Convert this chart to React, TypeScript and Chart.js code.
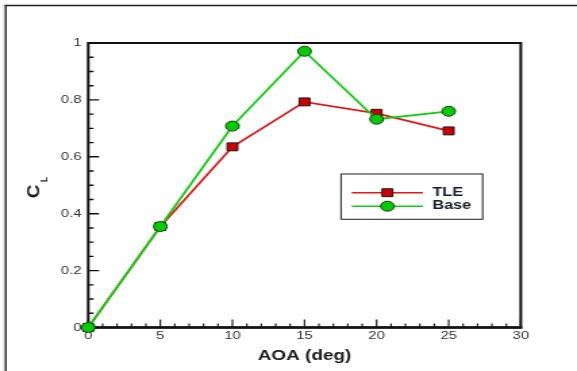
import React, { useEffect, useRef } from "react";
import { Chart, registerables } from "chart.js";

Chart.register(...registerables);

// ---- data ----
const aoa = [0, 5, 10, 15, 20, 25];
const tleCL = [0, 0.355, 0.635, 0.793, 0.753, 0.691];
const baseCL = [0, 0.355, 0.708, 0.971, 0.732, 0.76];
const seriesLabels = ["TLE", "Base"];

const xTickValues = [0, 5, 10, 15, 20, 25, 30];
const xTickLabels = ["0", "5", "10", "15", "20", "25", "30"];
const yTickValues = [0, 0.2, 0.4, 0.6, 0.8, 1];
const yTickLabels = ["0", "0.2", "0.4", "0.6", "0.8", "1"];
const xMinorValues = [1, 2, 3, 4, 6, 7, 8, 9, 11, 12, 13, 14, 16, 17, 18, 19, 21, 22, 23, 24, 26, 27, 28, 29];
const yMinorValues = [0.05, 0.1, 0.15, 0.25, 0.3, 0.35, 0.45, 0.5, 0.55, 0.65, 0.7, 0.75, 0.85, 0.9, 0.95];

const xTitle = "AOA (deg)";
const yTitleMain = "C";
const yTitleSub = "L";

// ---- layout (internal canvas is stretched horizontally to 577px) ----
const W = 427;
const H = 371;
const FONT = "'Liberation Sans', Arial, Helvetica, sans-serif";

const decorPlugin = {
  id: "decor",
  beforeDatasetsDraw(chart: any) {
    const { ctx, chartArea: a, scales } = chart;
    const xs = scales.x;
    const ys = scales.y;
    ctx.save();
    // outer figure frame
    ctx.strokeStyle = "#c4c4c4";
    ctx.lineWidth = 1.2;
    ctx.beginPath();
    ctx.moveTo(3.2, 5);
    ctx.lineTo(3.2, H);
    ctx.stroke();
    ctx.strokeStyle = "#1e1e1e";
    ctx.lineWidth = 1.2;
    ctx.beginPath();
    ctx.moveTo(4.3, 5);
    ctx.lineTo(4.3, H);
    ctx.stroke();
    ctx.lineWidth = 1.5;
    ctx.beginPath();
    ctx.moveTo(3.5, 5.5);
    ctx.lineTo(W, 5.5);
    ctx.stroke();

    // inward ticks
    ctx.strokeStyle = "#111";
    ctx.lineWidth = 1.1;
    ctx.beginPath();
    for (const v of xTickValues) {
      const px = xs.getPixelForValue(v);
      ctx.moveTo(px, a.bottom);
      ctx.lineTo(px, a.bottom - 8);
    }
    for (const v of xMinorValues) {
      const px = xs.getPixelForValue(v);
      ctx.moveTo(px, a.bottom);
      ctx.lineTo(px, a.bottom - 4);
    }
    ctx.stroke();
    ctx.lineWidth = 1.4;
    ctx.beginPath();
    for (const v of yTickValues) {
      const py = ys.getPixelForValue(v);
      ctx.moveTo(a.left, py);
      ctx.lineTo(a.left + 8, py);
    }
    for (const v of yMinorValues) {
      const py = ys.getPixelForValue(v);
      ctx.moveTo(a.left, py);
      ctx.lineTo(a.left + 4, py);
    }
    ctx.stroke();

    // plot frame
    ctx.strokeStyle = "#111";
    ctx.lineWidth = 2;
    ctx.strokeRect(a.left, a.top, a.right - a.left, a.bottom - a.top);
    ctx.lineWidth = 2.6;
    ctx.beginPath();
    ctx.moveTo(a.left - 1, a.bottom);
    ctx.lineTo(a.right + 1, a.bottom);
    ctx.stroke();
    ctx.restore();
  },
  afterDraw(chart: any) {
    const { ctx, chartArea: a } = chart;
    ctx.save();
    // axis titles
    ctx.fillStyle = "#1a1a1a";
    ctx.font = `bold 14px ${FONT}`;
    ctx.textAlign = "center";
    ctx.textBaseline = "alphabetic";
    ctx.fillText(xTitle, (a.left + a.right) / 2, 360);

    ctx.save();
    ctx.translate(25.3, 191.5);
    ctx.rotate(-Math.PI / 2);
    ctx.scale(1.35, 0.92);
    ctx.font = `bold 14px ${FONT}`;
    ctx.textBaseline = "middle";
    ctx.fillText(yTitleMain, 0, 0);
    ctx.restore();
    ctx.save();
    ctx.translate(32.4, 179.5);
    ctx.rotate(-Math.PI / 2);
    ctx.font = `bold 8px ${FONT}`;
    ctx.textAlign = "center";
    ctx.textBaseline = "middle";
    ctx.fillText(yTitleSub, 0, 0);
    ctx.restore();

    // legend
    const bx = 252.4, by = 174, bw = 104.8, bh = 45.3;
    ctx.fillStyle = "#fff";
    ctx.fillRect(bx, by, bw, bh);
    ctx.strokeStyle = "#333";
    ctx.lineWidth = 1.1;
    ctx.strokeRect(bx, by, bw, bh);
    const rows = [192.7, 206.2];
    const baselines = [195.6, 209.4];
    chart.data.datasets.forEach((ds: any, i: number) => {
      const ry = rows[i];
      ctx.strokeStyle = ds.borderColor;
      ctx.lineWidth = 1.6;
      ctx.beginPath();
      ctx.moveTo(260.3, ry);
      ctx.lineTo(312.9, ry);
      ctx.stroke();
      const mx = 286.7;
      ctx.fillStyle = ds.pointBackgroundColor;
      ctx.strokeStyle = ds.pointBorderColor;
      ctx.lineWidth = 1;
      ctx.beginPath();
      if (ds.pointStyle === "rect") {
        const s = ds.pointRadius * Math.SQRT1_2;
        ctx.rect(mx - s, ry - s, 2 * s, 2 * s);
      } else {
        ctx.arc(mx, ry, ds.pointRadius, 0, Math.PI * 2);
      }
      ctx.fill();
      ctx.stroke();
      ctx.fillStyle = "#1a1a2a";
      ctx.font = `bold 12px ${FONT}`;
      ctx.textAlign = "left";
      ctx.textBaseline = "alphabetic";
      ctx.fillText(ds.label, 320, baselines[i]);
    });
    ctx.restore();
  },
};

export default function App() {
  const ref = useRef<HTMLCanvasElement | null>(null);

  useEffect(() => {
    const canvas = ref.current;
    if (!canvas) return;
    const chart = new Chart(canvas, {
      type: "line",
      data: {
        datasets: [
          {
            label: seriesLabels[0],
            data: aoa.map((x, i) => ({ x, y: tleCL[i] })),
            borderColor: "#e01818",
            borderWidth: 1.8,
            pointStyle: "rect",
            pointRadius: 5.6,
            pointHoverRadius: 5.6,
            pointBackgroundColor: "#cc0000",
            pointBorderColor: "#1a1a1a",
            pointBorderWidth: 1,
            order: 2,
            clip: false,
            tension: 0,
          } as any,
          {
            label: seriesLabels[1],
            data: aoa.map((x, i) => ({ x, y: baseCL[i] })),
            borderColor: "#14cc14",
            borderWidth: 1.8,
            pointStyle: "circle",
            pointRadius: 5,
            pointHoverRadius: 5,
            pointBackgroundColor: "#00cc00",
            pointBorderColor: "#1c3a1c",
            pointBorderWidth: 1,
            order: 1,
            clip: false,
            tension: 0,
          } as any,
        ],
      },
      options: {
        animation: false,
        responsive: false,
        devicePixelRatio: 1,
        events: [],
        layout: { padding: { top: 43, right: 41.6, left: 0, bottom: 0 } },
        plugins: {
          legend: { display: false },
          tooltip: { enabled: false },
          title: { display: false },
        },
        scales: {
          x: {
            type: "linear",
            min: 0,
            max: 30,
            grid: { display: false, drawTicks: false },
            border: { display: false },
            afterFit: (s: any) => {
              s.height = 43.5;
            },
            afterBuildTicks: (s: any) => {
              s.ticks = xTickValues.map((v) => ({ value: v }));
            },
            ticks: {
              autoSkip: false,
              maxRotation: 0,
              padding: 2,
              color: "#333",
              font: { family: FONT, size: 11 },
              callback: (_v: any, i: number) => xTickLabels[i],
            },
          },
          y: {
            type: "linear",
            min: 0,
            max: 1,
            grid: { display: false, drawTicks: false },
            border: { display: false },
            afterFit: (s: any) => {
              s.width = 65.3;
            },
            afterBuildTicks: (s: any) => {
              s.ticks = yTickValues.map((v) => ({ value: v }));
            },
            ticks: {
              autoSkip: false,
              padding: 5,
              color: "#333",
              font: { family: FONT, size: 11 },
              callback: (_v: any, i: number) => yTickLabels[i],
            },
          },
        },
      } as any,
      plugins: [decorPlugin],
    });
    return () => chart.destroy();
  }, []);

  return (
    <div style={{ position: "absolute", left: 0, top: 0, width: 577, height: 371, background: "#fff" }}>
      <canvas
        ref={ref}
        width={W}
        height={H}
        style={{ width: "577px", height: "371px", display: "block" }}
      />
    </div>
  );
}
